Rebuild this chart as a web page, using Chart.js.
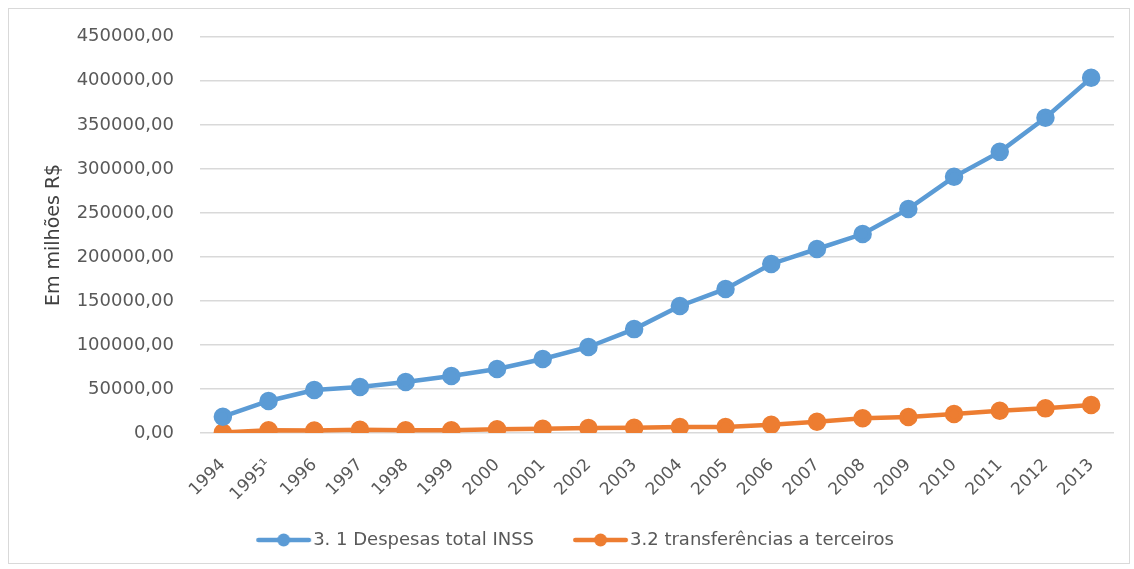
<!DOCTYPE html>
<html>
<head>
<meta charset="utf-8">
<script src="https://cdn.jsdelivr.net/npm/chart.js@4"></script>
<style>
  body { margin: 0; background: #fff; }
  #wrap { position: relative; width: 1134px; height: 569px; }
  #frame { position: absolute; left: 8px; top: 8px; width: 1120px; height: 554px; border: 1px solid #d9d9d9; pointer-events: none; }
</style>
</head>
<body>
<div id="wrap">
  <canvas id="chart" width="1134" height="569"></canvas>
  <div id="frame"></div>
</div>
<script>
const years = ['1994', '1995¹', '1996', '1997', '1998', '1999', '2000', '2001', '2002', '2003',
  '2004', '2005', '2006', '2007', '2008', '2009', '2010', '2011', '2012', '2013'];
const despesasINSS = [18500, 36400, 48900, 52300, 58000, 64800, 72700, 84100, 97700, 118000,
  144300, 163600, 192000, 209000, 226000, 254500, 291000, 319300, 358000, 403400];
const transferencias = [500, 3000, 2800, 3700, 3000, 3000, 4200, 4900, 5700, 6000,
  6800, 6800, 9400, 12800, 16700, 18200, 21600, 25300, 28000, 31800];
const seriesNames = ['3. 1 Despesas total INSS', '3.2 transferências a terceiros'];

const BLUE = '#5B9BD5', ORANGE = '#ED7D31';
const FONT = 'DejaVu Sans';

// legend icon: line with a dot in the middle, blank margin on the left
// (gives the wide gap between legend items without a tall legend box)
function legendIcon(color) {
  const c = document.createElement('canvas');
  c.width = 76; c.height = 16;
  const g = c.getContext('2d');
  g.strokeStyle = color; g.lineWidth = 4.5; g.lineCap = 'round';
  g.beginPath(); g.moveTo(22.25, 8); g.lineTo(72.75, 8); g.stroke();
  g.fillStyle = color;
  g.beginPath(); g.arc(47.5, 8, 6.5, 0, Math.PI * 2); g.fill();
  return c;
}

const fmt = v => v.toFixed(2).replace('.', ',');

new Chart(document.getElementById('chart'), {
  type: 'line',
  data: {
    labels: years,
    datasets: [
      { label: seriesNames[0], data: despesasINSS, borderColor: BLUE, backgroundColor: BLUE,
        borderWidth: 4.5, pointRadius: 7, pointHoverRadius: 7, pointStyle: 'circle', tension: 0,
        legendIcon: legendIcon(BLUE) },
      { label: seriesNames[1], data: transferencias, borderColor: ORANGE, backgroundColor: ORANGE,
        borderWidth: 4.5, pointRadius: 7, pointHoverRadius: 7, pointStyle: 'circle', tension: 0,
        legendIcon: legendIcon(ORANGE) },
    ]
  },
  options: {
    responsive: false,
    animation: false,
    layout: { padding: { top: 36, right: 20, left: 24, bottom: 10 } },
    plugins: {
      tooltip: { enabled: false },
      legend: {
        position: 'bottom',
        labels: {
          color: '#595959',
          font: { family: FONT, size: 18 },
          usePointStyle: true,
          pointStyleWidth: 60,
          boxHeight: 16,
          padding: 27,
          generateLabels: chart => chart.data.datasets.map((ds, i) => ({
            text: ds.label, pointStyle: ds.legendIcon, fillStyle: ds.borderColor,
            strokeStyle: ds.borderColor, lineWidth: 0, fontColor: '#595959', datasetIndex: i, hidden: false
          }))
        }
      }
    },
    scales: {
      x: {
        offset: true,
        grid: { display: false, drawTicks: false },
        border: { display: false },
        ticks: { color: '#595959', font: { family: FONT, size: 17 }, maxRotation: 45, minRotation: 45, padding: 22 },
        afterFit: s => { s.height = 71; }
      },
      y: {
        min: 0, max: 450000,
        grid: { color: '#d9d9d9', lineWidth: 1.5, drawTicks: false },
        border: { display: false },
        ticks: { stepSize: 50000, color: '#595959', font: { family: FONT, size: 18 }, padding: 26, callback: v => fmt(v) },
        title: { display: true, text: 'Em milhões R$', color: '#404040', font: { family: FONT, size: 19 }, padding: { top: 19, bottom: 0 } },
        afterFit: s => { s.width = 176; }
      }
    }
  }
});
</script>
</body>
</html>
